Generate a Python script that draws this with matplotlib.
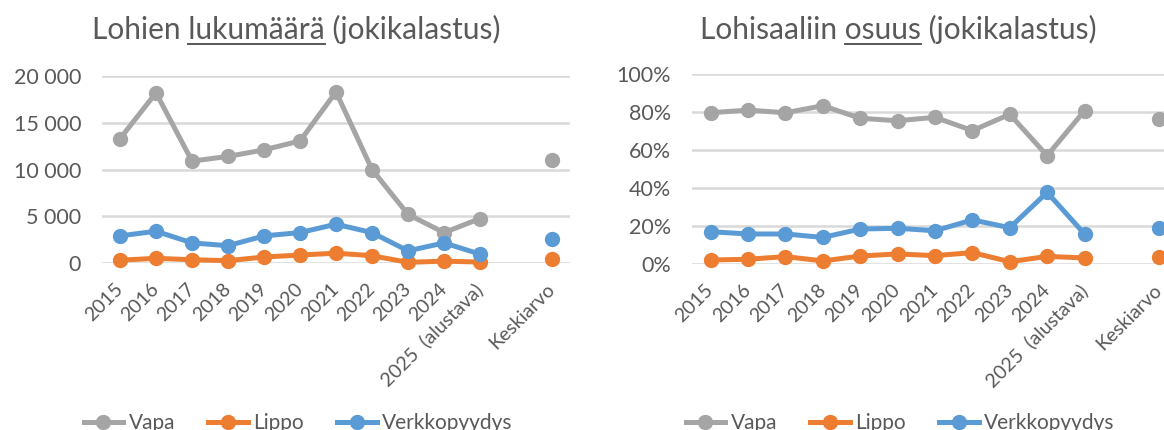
import matplotlib
matplotlib.use("Agg")
import matplotlib.pyplot as plt
import numpy as np
from matplotlib.lines import Line2D

plt.rcParams['font.family'] = ['Lato', 'DejaVu Sans']

GREY_TXT = '#595959'
GRID = '#D9D9D9'

# categories
years = ['2015', '2016', '2017', '2018', '2019', '2020', '2021', '2022', '2023', '2024', '2025  (alustava)']
avg_label = 'Keskiarvo'
series_names = ['Vapa', 'Lippo', 'Verkkopyydys']
series_colors = ['#A5A5A5', '#ED7D31', '#5B9BD5']

# lohien lukumaara (kpl)
count_vapa = [13300, 18200, 10900, 11400, 12100, 13050, 18300, 10000, 5200, 3250, 4750]
count_lippo = [300, 500, 350, 250, 640, 850, 1050, 780, 70, 200, 100]
count_verkko = [2900, 3400, 2150, 1850, 2900, 3250, 4150, 3250, 1300, 2150, 950]
count_avg = [11000, 430, 2550]

# osuus lohisaaliista (%)
share_vapa = [79.6, 81.0, 79.6, 83.3, 76.7, 75.4, 77.2, 70.2, 78.8, 57.0, 80.7]
share_lippo = [2.1, 2.5, 3.9, 1.6, 4.2, 5.3, 4.4, 6.0, 1.2, 4.0, 3.2]
share_verkko = [17.0, 15.8, 15.8, 14.0, 18.4, 18.8, 17.5, 23.2, 19.1, 37.7, 15.8]
share_avg = [76.1, 3.9, 19.1]

W, H = 1164, 430
fig = plt.figure(figsize=(W / 100, H / 100), dpi=100)


def fmt_thousands(v, pos=None):
    return '{:,.0f}'.format(v).replace(',', ' ')


def fmt_pct(v, pos=None):
    return '{:.0f}%'.format(v)


def draw_panel(rect, series, avgs, ymax, ystep, fmt):
    ax = fig.add_axes(rect)
    labels = years + ['', avg_label]
    x = np.arange(len(labels))
    for vals, avg, col in zip(series, avgs, series_colors):
        ys = list(vals) + [np.nan, avg]
        ax.plot(x, ys, '-o', color=col, lw=3.6, ms=10, clip_on=False,
                solid_capstyle='round', zorder=3)
    ax.set_xlim(-0.5, len(labels) - 0.5)
    ax.set_ylim(0, ymax)
    ax.set_yticks(np.arange(0, ymax + ystep / 2, ystep))
    ax.yaxis.set_major_formatter(plt.FuncFormatter(fmt))
    ax.grid(axis='y', color=GRID, lw=1.8)
    ax.set_axisbelow(True)
    for s in ax.spines.values():
        s.set_visible(False)
    ax.tick_params(axis='both', length=0, colors=GREY_TXT, labelsize=15.5)
    ax.tick_params(axis='y', pad=15)
    ax.set_xticks(x)
    ax.set_xticklabels(labels, rotation=45, ha='right', va='center',
                       rotation_mode='anchor', fontsize=14)
    ax.tick_params(axis='x', pad=17)
    return ax


ax1 = draw_panel([102 / W, (H - 263) / H, 468 / W, 187 / H],
                 [count_vapa, count_lippo, count_verkko], count_avg,
                 20000, 5000, fmt_thousands)
ax2 = draw_panel([692 / W, (H - 264) / H, 486 / W, 190 / H],
                 [share_vapa, share_lippo, share_verkko], share_avg,
                 100, 20, fmt_pct)

fig.canvas.draw()
renderer = fig.canvas.get_renderer()


def width_of(s, size):
    t = fig.text(0, 0, s, fontsize=size)
    w = t.get_window_extent(renderer).width
    t.remove()
    return w


def title_underlined(x_px, base_px, before, word, after, size=21.5):
    fig.text(x_px / W, 1 - base_px / H, before + word + after, fontsize=size,
             color=GREY_TXT, va='baseline', ha='left')
    full = width_of(before + word, size)
    start = full - width_of(word, size)
    uy = 1 - (base_px + 5) / H
    fig.add_artist(Line2D([(x_px + start) / W, (x_px + full) / W], [uy, uy],
                          color=GREY_TXT, lw=1.4, transform=fig.transFigure))


title_underlined(92, 39, 'Lohien ', 'lukumäärä', ' (jokikalastus)')
title_underlined(700, 39, 'Lohisaaliin ', 'osuus', ' (jokikalastus)')

handles = [Line2D([], [], color=c, lw=3.6, marker='o', ms=10) for c in series_colors]
for cx in (298, 900):
    fig.legend(handles, series_names, loc='center', bbox_to_anchor=(cx / W, 1 - 423 / H),
               ncol=3, frameon=False, fontsize=15, labelcolor=GREY_TXT,
               handlelength=1.9, handletextpad=0.25, columnspacing=1.6)

fig.savefig('out.png', dpi=100)
